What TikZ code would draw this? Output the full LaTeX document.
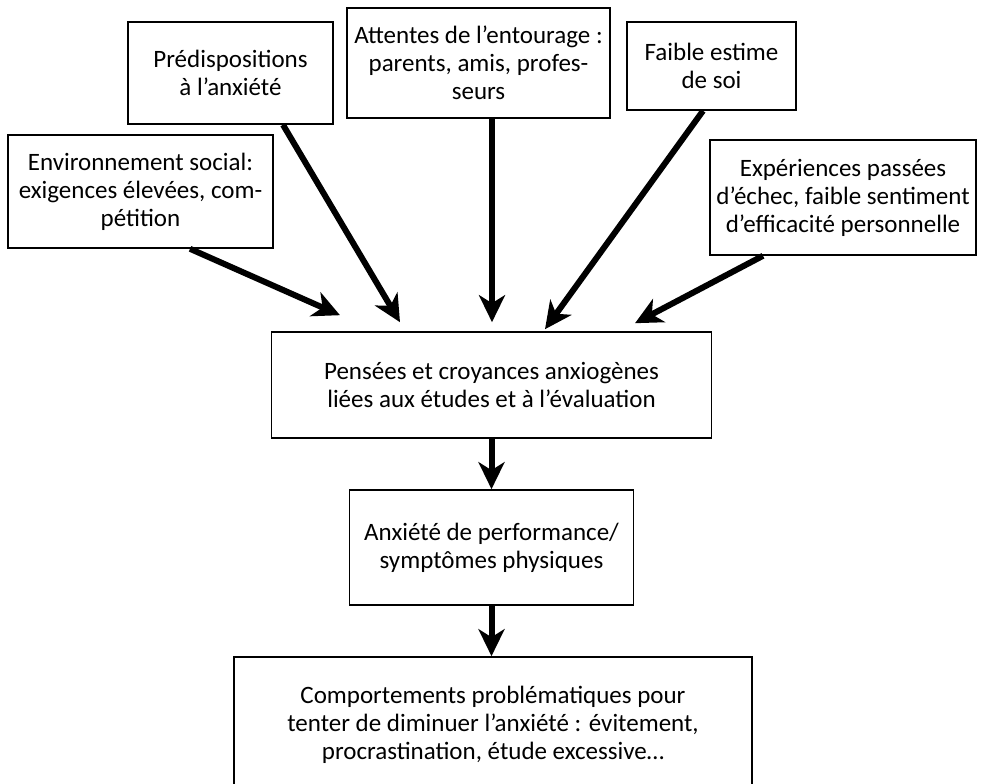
\documentclass[tikz,border=0pt]{standalone}
\usepackage{fontspec}
\setmainfont{Carlito}
\usetikzlibrary{arrows.meta}
\begin{document}
\begin{tikzpicture}[x=1pt, y=-1pt,
	box/.style = {draw, line width=1.6pt, align=center, inner sep=0pt, font=\fontsize{25pt}{28pt}\selectfont},
	flow/.style = {line width=6pt, -{Stealth[length=27pt, width=26pt, inset=8pt]}}]
		\useasboundingbox (0,0) rectangle (983,784);
		% causes
		\node[box, minimum width=265pt, minimum height=113pt] (env) at (140.5,191.5) {Environnement social:\\exigences élevées, com-\\pétition};
		\node[box, minimum width=205pt, minimum height=102pt] (pred) at (230.5,73) {Prédispositions\\à l’anxiété};
		\node[box, minimum width=263pt, minimum height=110pt] (att) at (478.5,63) {Attentes de l’entourage :\\parents, amis, profes-\\seurs};
		\node[box, minimum width=169pt, minimum height=88pt] (est) at (711.5,66) {Faible estime\\de soi};
		\node[box, minimum width=266pt, minimum height=115pt] (exp) at (843,197.5) {Expériences passées\\d’échec, faible sentiment\\d’efficacité personnelle};
		% chain
		\node[box, minimum width=440pt, minimum height=106pt] (pen) at (491.5,385) {Pensées et croyances anxiogènes\\liées aux études et à l’évaluation};
		\node[box, minimum width=284pt, minimum height=115pt] (anx) at (491.5,547.5) {Anxiété de performance/\\symptômes physiques};
		\node[box, minimum width=518pt, minimum height=136pt] (comp) at (493,725) {Comportements problématiques pour\\tenter de diminuer l’anxiété : évitement,\\procrastination, étude excessive…};
		\draw[flow] ([xshift=49.5pt]env.south) -- ([xshift=-151.5pt, yshift=16pt]pen.north);
		\draw[flow] ([xshift=52.5pt]pred.south) -- ([xshift=-91.5pt, yshift=9pt]pen.north);
		\draw[flow] ([xshift=13.5pt]att.south) -- ([xshift=0.5pt, yshift=9pt]pen.north);
		\draw[flow] ([xshift=-8.5pt]est.south) -- ([xshift=53.5pt, yshift=2pt]pen.north);
		\draw[flow] ([xshift=-80pt]exp.south) -- ([xshift=143.5pt, yshift=8pt]pen.north);
		\draw[flow] (pen.south) -- (anx.north);
		\draw[flow] (anx.south) -- (anx.south |- comp.north);
	\end{tikzpicture}
\end{document}
